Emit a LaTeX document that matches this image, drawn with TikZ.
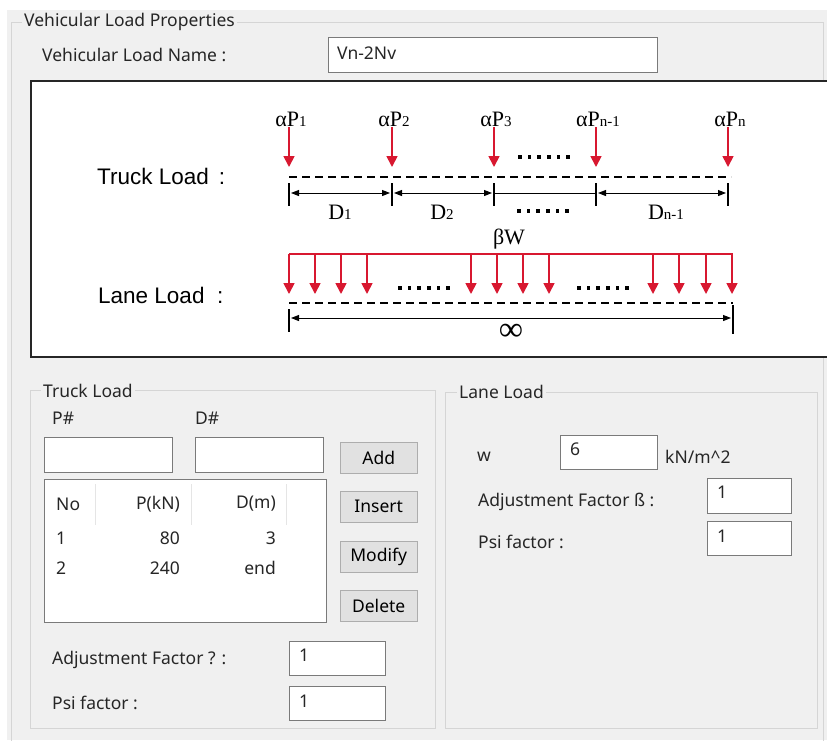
\documentclass[tikz,border=0pt]{standalone}
\usepackage{fontspec}
\setmainfont{Noto Sans}
\newfontfamily\figsans{Liberation Sans}
\newfontfamily\figserif{Liberation Serif}
\usepackage{xcolor}
\usetikzlibrary{positioning, arrows.meta}

\definecolor{winbg}{HTML}{F0F0F0}
\definecolor{grpline}{HTML}{D5D5D5}
\definecolor{boxline}{HTML}{7A7A7A}
\definecolor{btnfill}{HTML}{E1E1E1}
\definecolor{btnline}{HTML}{ADADAD}
\definecolor{loadred}{HTML}{D81830}

\newcommand{\subl}[2]{#1{\fontsize{15}{15}\selectfont #2}}

\begin{document}
\begin{tikzpicture}[x=1pt,y=-1pt,
    guitext/.style={font=\fontsize{17.5}{20}\selectfont,inner sep=0pt,anchor=west,text=black!85},
    grptitle/.style={guitext,fill=winbg,inner xsep=2pt,inner ysep=1pt},
    txtbox/.style={draw=boxline,fill=white,anchor=north west,inner sep=0pt},
    button/.style={draw=btnline,fill=btnfill,anchor=north west,inner sep=0pt,
        minimum width=77pt,minimum height=31pt,font=\fontsize{17.5}{20}\selectfont},
    figlbl/.style={font=\figsans\fontsize{22.5}{24}\selectfont,inner sep=0pt,anchor=west},
    loadlbl/.style={font=\figserif\fontsize{22}{24}\selectfont,inner sep=0pt},
    load/.style={draw=loadred,line width=1.7pt,-{Triangle[width=11pt,length=11pt]}},
    dashln/.style={line width=1.6pt,dash pattern=on 8pt off 5pt},
    tick/.style={line width=1.3pt},
    dimarr/.style={line width=1pt,{Triangle[width=6pt,length=8pt]}-{Triangle[width=6pt,length=8pt]},shorten <=2pt,shorten >=2pt},
    dimdot/.style={fill=black,inner sep=0pt,minimum size=3.6pt}]

\useasboundingbox (0,0) rectangle (827,740);
\clip (0,0) rectangle (827,740);

% window background
\fill[white] (0,0) rectangle (827,740);
\fill[winbg] (7,10) rectangle (827,740);
\draw[grpline] (11.5,22.5) rectangle (823.5,760);
\node[grptitle] (ttlprops) at (22,22) {Vehicular Load Properties};

\node[guitext] (namelbl) at (42,55) {Vehicular Load Name :};
\node[txtbox,minimum width=329pt,minimum height=35pt] (namebox) at (328,37) {};
\node[guitext,right=9pt of namebox.west,yshift=2pt] (nameval) {Vn-2Nv};

% sketch frame
\draw[line width=2pt,draw=black!85,fill=white] (31,81) rectangle (850,357);
\node[figlbl] (trucklbl) at (97,176) {Truck Load\,\ :};
\node[figlbl] (lanelbl) at (98,295) {Lane Load\ \ :};

% truck axle loads
\foreach \x/\name/\lab in {289/p1/{\subl{αP}{1}},392/p2/{\subl{αP}{2}},494/p3/{\subl{αP}{3}},
        596/pm/{\subl{αP}{n-1}},728/pn/{\subl{αP}{n}}}{
    \node[loadlbl,anchor=south] (lbl\name) at (\x+2,127) {\lab};
    \coordinate (t\name) at (\x,167);
    \draw[load] (lbl\name.south -| t\name) -- (t\name);
    \draw[tick] (\x,183) -- (\x,206);
    \coordinate (d\name) at (\x,193);
}
\foreach \x in {0,...,5}{
    \node[dimdot] at (520+9.6*\x,157) {};
    \node[dimdot] at (519+9.6*\x,211) {};
}
\draw[dashln] (289,177) -- (731,177);
\draw[dimarr] (dp1) -- (dp2);
\draw[dimarr] (dp2) -- (dp3);
\draw[line width=1pt] (dp3) -- (dpm);
\draw[dimarr] (dpm) -- (dpn);
\node[loadlbl] (dim1) at (340,212) {\subl{D}{1}};
\node[loadlbl] (dim2) at (442,212) {\subl{D}{2}};
\node[loadlbl] (dimm) at (666,212) {\subl{D}{n-1}};

% lane load
\node[loadlbl] (betaw) at (509,239) {βW};
\coordinate (lnL) at (289,254);
\coordinate (lnR) at (733,254);
\draw[draw=loadred,line width=1.8pt] (lnL) -- (lnR);
\foreach \x in {289,315,341,367,471,497,523,549,653,679,706,732}{
    \draw[load] (\x,254) -- (\x,294);
}
\foreach \x in {0,...,5}{
    \node[dimdot] at (400+9.6*\x,288) {};
    \node[dimdot] at (579+9.6*\x,288) {};
}
\draw[dashln] (289,303) -- (733,303);
\draw[tick] (289,309) -- (289,332);
\draw[tick] (733,305) -- (733,334);
\coordinate (infL) at (289,318);
\coordinate (infR) at (733,318);
\draw[dimarr] (infL) -- (infR);
\node[font=\figserif\fontsize{34}{34}\selectfont,inner sep=0pt] (inflbl) at (511,332) {∞};

% truck load group
\draw[grpline] (30.5,390.5) rectangle (435.5,728.5);
\node[grptitle] (ttltruck) at (41,391) {Truck Load};
\node[guitext] (plbl) at (52,418) {P\#};
\node[guitext] (dlbl) at (195,418) {D\#};
\node[txtbox,minimum width=128pt,minimum height=35pt] (pbox) at (44,437) {};
\node[txtbox,minimum width=128pt,minimum height=35pt] (dbox) at (195,437) {};
\node[button] (btnadd) at (340,442) {Add};
\node[button] (btnins) at (340,491) {Insert};
\node[button] (btnmod) at (340,541) {Modify};
\node[button] (btndel) at (340,590) {Delete};

\node[txtbox,minimum width=282pt,minimum height=143pt] (listbox) at (44,479) {};
\foreach \x in {95,191,286}{
    \draw[draw=black!10] (\x,484) -- (\x,525);
}
\node[guitext] (hno) at (56,504) {No};
\node[guitext,anchor=east] (hp) at (180,504) {P(kN)};
\node[guitext,anchor=east] (hd) at (276,504) {D(m)};
\node[guitext] (r1no) at (56,538) {1};
\node[guitext,anchor=east] (r1p) at (180,538) {80};
\node[guitext,anchor=east] (r1d) at (276,538) {3};
\node[guitext] (r2no) at (56,568) {2};
\node[guitext,anchor=east] (r2p) at (180,568) {240};
\node[guitext,anchor=east] (r2d) at (276,568) {end};

\node[guitext] (adjtlbl) at (52,660) {Adjustment Factor ? :};
\node[txtbox,minimum width=96pt,minimum height=34pt] (adjtbox) at (289,641) {};
\node[guitext,right=10pt of adjtbox.west,yshift=3pt] (adjtval) {1};
\node[guitext] (psitlbl) at (52,703) {Psi factor :};
\node[txtbox,minimum width=96pt,minimum height=34pt] (psitbox) at (289,686) {};
\node[guitext,right=10pt of psitbox.west,yshift=2pt] (psitval) {1};

% lane load group
\draw[grpline] (445.5,392.5) rectangle (817.5,728.5);
\node[grptitle] (ttllane) at (457,392) {Lane Load};
\node[guitext] (wlbl) at (477,457) {w};
\node[txtbox,minimum width=97pt,minimum height=34pt] (wbox) at (560,435) {};
\node[guitext,right=10pt of wbox.west,yshift=3pt] (wval) {6};
\node[guitext] (wunit) at (665,457) {kN/m\^{}2};
\node[guitext] (adjllbl) at (478,502) {Adjustment Factor ß :};
\node[txtbox,minimum width=84pt,minimum height=35pt] (adjlbox) at (707,478) {};
\node[guitext,right=10pt of adjlbox.west,yshift=3pt] (adjlval) {1};
\node[guitext] (psillbl) at (478,542) {Psi factor :};
\node[txtbox,minimum width=84pt,minimum height=34pt] (psilbox) at (707,521) {};
\node[guitext,right=10pt of psilbox.west,yshift=2pt] (psilval) {1};
\end{tikzpicture}
\end{document}
